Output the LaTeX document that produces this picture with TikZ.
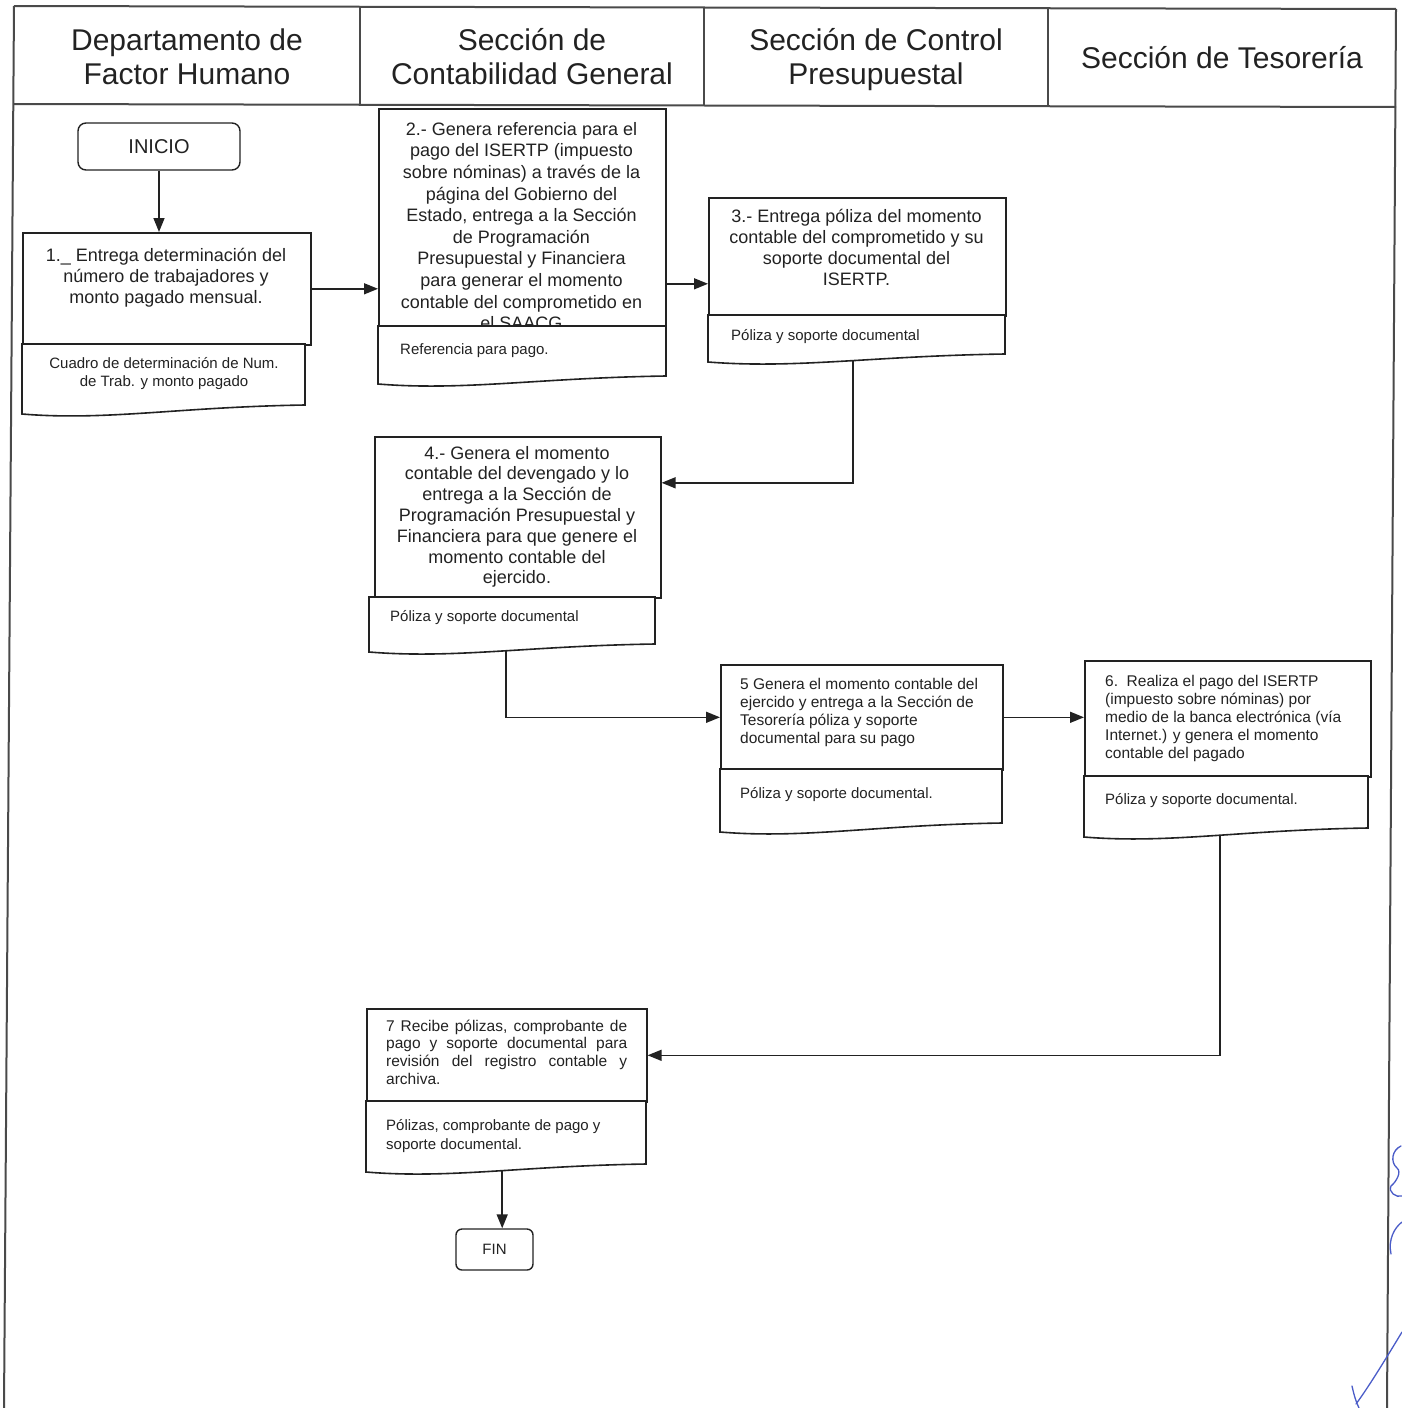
\documentclass[tikz,border=0pt]{standalone}
\usepackage{fontspec}
\setmainfont{Liberation Sans}
\usetikzlibrary{arrows.meta,backgrounds,calc}

\definecolor{ink}{HTML}{222222}
\definecolor{rulegray}{HTML}{4a4a4a}
\definecolor{pen}{HTML}{4a5cc8}

% document symbol: name, left x, top y, right x, bottom-left y, bottom-right y
\newcommand{\docshape}[6]{%
  \draw[docline] (#2,#3) -- (#2,#5)
    .. controls ({#2+0.3*(#4-#2)},{#5+7}) and ({#2+0.55*(#4-#2)},{#6+2}) .. (#4,#6)
    -- (#4,#3) -- cycle;
  \node[docnode, minimum width={(#4-#2)*1pt}, minimum height={((#5+#6)/2-#3)*1pt}] (#1) at (#2,#3) {};
}

\begin{document}
\begin{tikzpicture}[
  x=1pt, y=-1pt,
  laneline/.style={draw=rulegray, line width=2pt},
  procbox/.style={draw=ink, line width=1.6pt, fill=white, inner sep=0, anchor=north west},
  docnode/.style={inner sep=0, anchor=north west},
  docline/.style={draw=ink, line width=1.6pt, fill=white},
  termbox/.style={draw=ink, line width=1.4pt, rounded corners=8pt, fill=white, inner sep=0},
  headtxt/.style={font=\fontsize{30}{34}\selectfont, text=ink, align=center, inner sep=0, anchor=north},
  bigtxt/.style={font=\fontsize{18}{21}\selectfont, text=ink, align=center, inner sep=0, anchor=north},
  smalltxt/.style={font=\fontsize{15.5}{18}\selectfont, text=ink, align=left, inner sep=0, anchor=north west},
  doctxt/.style={font=\fontsize{15}{18}\selectfont, text=ink, align=left, inner sep=0, anchor=north west},
  flow/.style={draw=ink, line width=1.5pt, -{Triangle[length=14pt,width=11pt]}},
  sig/.style={draw=pen, line width=1.3pt, line cap=round},
]
\useasboundingbox (0,0) rectangle (1402,1408);

% lane frame and header
\draw[laneline] (14,6) -- (1396,9);
\draw[laneline] (14,104) -- (1396,107);
\draw[laneline] (14,6) -- (4,1408);
\draw[laneline] (1396,9) -- (1387,1408);
\draw[laneline] (360,7) -- (360,105);
\draw[laneline] (704,8) -- (704,106);
\draw[laneline] (1048,8) -- (1048,107);

\node[headtxt] (h1) at (187,26) {\strut Departamento de\\Factor Humano};
\node[headtxt] (h2) at (532,26) {\strut Sección de\\Contabilidad General};
\node[headtxt] (h3) at (876,26) {\strut Sección de Control\\Presupuestal};
\node[headtxt] (h4) at (1222,44) {\strut Sección de Tesorería};

% start
\node[termbox, minimum width=162pt, minimum height=47pt, font=\fontsize{20}{24}\selectfont, text=ink] (ini) at (159,146.5) {INICIO};

% step 1
\node[procbox, minimum width=288pt, minimum height=112pt] (p1) at (22,232) {};
\node[bigtxt] (t1) at (166,246.3) {\strut 1.\_ Entrega determinación del\\número de trabajadores y\\monto pagado mensual.};
\docshape{d1}{22}{344}{305}{414}{405}
\node[doctxt, align=center, anchor=north] (dt1) at (164,355.4) {\strut Cuadro de determinación de Num.\\de Trab. y monto pagado};

% step 2
\node[procbox, minimum width=287pt, minimum height=218pt] (p2) at (378,108) {};
\node[bigtxt, font=\fontsize{18}{21.6}\selectfont] (t2) at (521.5,119.9) {\strut 2.- Genera referencia para el\\pago del ISERTP (impuesto\\sobre nóminas) a través de la\\página del Gobierno del\\Estado, entrega a la Sección\\de Programación\\Presupuestal y Financiera\\para generar el momento\\contable del comprometido en\\el SAACG};
\docshape{d2}{378}{326}{666}{384}{376}
\node[doctxt] (dt2) at (400,341.4) {\strut Referencia para pago.};

% step 3
\node[procbox, minimum width=297pt, minimum height=118pt] (p3) at (708,197) {};
\node[bigtxt] (t3) at (856.5,207.3) {\strut 3.- Entrega póliza del momento\\contable del comprometido y su\\soporte documental del\\ISERTP.};
\docshape{d3}{708}{315}{1005}{362}{354}
\node[doctxt] (dt3) at (731,327.4) {\strut Póliza y soporte documental};

% step 4
\node[procbox, minimum width=286pt, minimum height=161pt] (p4) at (374,436) {};
\node[bigtxt, font=\fontsize{18}{20.8}\selectfont] (t4) at (517,444.4) {\strut 4.- Genera el momento\\contable del devengado y lo\\entrega a la Sección de\\Programación Presupuestal y\\Financiera para que genere el\\momento contable del\\ejercido.};
\docshape{d4}{369}{597}{655}{652}{644}
\node[doctxt] (dt4) at (390,608.4) {\strut Póliza y soporte documental};

% step 5
\node[procbox, minimum width=282pt, minimum height=105pt] (p5) at (720,664) {};
\node[smalltxt] (t5) at (740,676.4) {\strut 5 Genera el momento contable del\\ejercido y entrega a la Sección de\\Tesorería póliza y soporte\\documental para su pago};
\docshape{d5}{720}{769}{1002}{832}{823}
\node[doctxt] (dt5) at (740,785.4) {\strut Póliza y soporte documental.};

% step 6
\node[procbox, minimum width=286pt, minimum height=116pt] (p6) at (1084,660) {};
\node[smalltxt] (t6) at (1105,673.4) {\strut 6.\ \ Realiza el pago del ISERTP\\(impuesto sobre nóminas) por\\medio de la banca electrónica (vía\\Internet.) y genera el momento\\contable del pagado};
\docshape{d6}{1084}{776}{1368}{837}{828}
\node[doctxt] (dt6) at (1105,791.4) {\strut Póliza y soporte documental.};

% step 7
\node[procbox, minimum width=280pt, minimum height=93pt] (p7) at (366,1008) {};
\node[smalltxt, font=\fontsize{15.5}{17.6}\selectfont] (t7) at (386,1018.7) {\strut\makebox[241pt][s]{7 Recibe pólizas, comprobante de}\\\makebox[241pt][s]{pago y soporte documental para}\\\makebox[241pt][s]{revisión del registro contable y}\\archiva.};
\docshape{d7}{366}{1101}{646}{1172}{1164}
\node[doctxt, font=\fontsize{15}{19}\selectfont] (dt7) at (386,1116.7) {\strut Pólizas, comprobante de pago y\\soporte documental.};

% end
\node[termbox, rounded corners=6pt, minimum width=77pt, minimum height=41pt, font=\fontsize{15}{18}\selectfont, text=ink] (fin) at (494.5,1249.5) {FIN};

% connectors, kept behind the filled shapes
\coordinate (a23) at ([yshift=-66pt]p2.east);
\coordinate (s3) at ([xshift=-3.5pt]d3.south);
\coordinate (e4) at ([yshift=34.5pt]p4.east);
\coordinate (s4) at ([xshift=-6pt]d4.south);
\coordinate (s6) at ([xshift=-6pt]d6.south);
\coordinate (s7) at ([xshift=-4pt]d7.south);
\begin{pgfonlayer}{background}
\draw[flow] (ini.south) -- (ini.south |- p1.north);
\draw[flow] (p1.east) -- (p1.east -| p2.west);
\draw[flow] (a23) -- (a23 -| p3.west);
\draw[flow] (s3) |- (e4);
\draw[flow] (s4) |- (p5.west);
\draw[flow] (p5.east) -- (p5.east -| p6.west);
\draw[flow] (s6) |- (p7.east);
\draw[flow] (s7) -- (s7 |- fin.north);
\end{pgfonlayer}

% initials in the margin
\draw[sig] (1401,1146) .. controls (1392,1150) and (1390,1162) .. (1397,1168)
  .. controls (1402,1172) and (1396,1182) .. (1391,1186)
  .. controls (1388,1192) and (1396,1198) .. (1402,1196);
\draw[sig] (1402,1222) .. controls (1394,1228) and (1388,1240) .. (1391,1254);
\draw[sig] (1352,1386) .. controls (1354,1395) and (1356,1402) .. (1359,1408);
\draw[sig] (1356,1404) .. controls (1370,1385) and (1388,1355) .. (1402,1332);
\end{tikzpicture}
\end{document}
